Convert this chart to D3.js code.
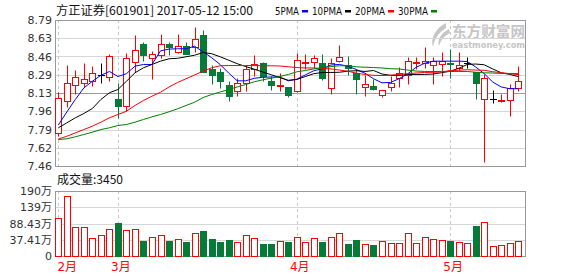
<!DOCTYPE html>
<html>
<head>
<meta charset="utf-8">
<script src="https://cdn.jsdelivr.net/npm/d3@7"></script>
<style>
  body { margin: 0; background: #fff; }
  svg { display: block; }
</style>
</head>
<body>
<svg id="chart" width="578" height="276"></svg>
<script>
// daily candles, 2017-02 .. 2017-05-12
let opens  = [7.76,8.05,8.20,8.22,8.23,8.29,8.27,8.07,8.01,8.41,8.57,8.44,8.47,8.57,8.50,8.55,8.54,8.65,8.34,8.32,
              8.20,8.14,8.22,8.34,8.40,8.23,8.19,8.18,8.14,8.40,8.41,8.40,8.17,8.42,8.38,8.31,8.18,8.19,8.11,8.18,
              8.26,8.29,8.40,8.40,8.38,8.39,8.40,8.35,8.40,8.32,8.07,8.07,8.05,8.06,8.17];
let highs  = [8.13,8.38,8.33,8.40,8.37,8.40,8.48,8.22,8.49,8.65,8.59,8.51,8.66,8.59,8.66,8.59,8.73,8.70,8.38,8.35,
              8.23,8.26,8.38,8.47,8.41,8.28,8.31,8.18,8.49,8.48,8.47,8.48,8.44,8.56,8.46,8.34,8.29,8.25,8.15,8.28,
              8.36,8.45,8.45,8.54,8.45,8.50,8.53,8.50,8.45,8.32,8.30,8.15,8.12,8.21,8.37];
let lows   = [7.73,8.00,8.12,8.18,8.19,8.22,8.23,7.90,7.96,8.32,8.42,8.25,8.44,8.47,8.49,8.48,8.50,8.32,8.21,8.17,
              8.05,8.10,8.14,8.28,8.23,8.15,8.14,8.09,8.13,8.34,8.35,8.24,8.12,8.41,8.29,8.12,8.10,8.15,8.09,8.14,
              8.18,8.21,8.34,8.35,8.21,8.28,8.26,8.33,8.35,8.07,7.50,8.03,8.04,7.92,8.14];
let closes = [8.08,8.22,8.27,8.25,8.31,8.29,8.46,8.01,8.44,8.52,8.47,8.48,8.57,8.54,8.55,8.48,8.62,8.32,8.29,8.23,
              8.10,8.22,8.34,8.39,8.28,8.20,8.20,8.11,8.43,8.41,8.44,8.26,8.40,8.45,8.35,8.25,8.21,8.16,8.15,8.22,
              8.31,8.42,8.41,8.42,8.42,8.42,8.39,8.38,8.40,8.22,8.26,8.07,8.06,8.17,8.23];
// volume in 万
let volumes = [110,175,84,84,52,60.5,79,96.5,76,79,44,54.6,60.5,44,49.7,41,66.3,73,49.7,41,
               46.8,41,60.5,52,35,35,44,41,54.6,40,52,40,54.6,66.3,35,46.8,35,32,44,37,
               37,66.3,37,54.6,48.8,45.9,44,40,37,87.7,98.5,28.4,31.3,37,43];

let ma5  = [7.833,7.952,8.066,8.171,8.232,8.286,8.321,8.275,8.301,8.369,8.385,8.385,8.509,8.525,8.528,8.528,8.551,8.501,8.446,8.385,
            8.307,8.236,8.236,8.259,8.268,8.271,8.271,8.236,8.251,8.290,8.328,8.346,8.380,8.385,8.369,8.339,8.305,8.255,8.218,8.221,
            8.255,8.298,8.359,8.396,8.415,8.415,8.415,8.415,8.412,8.362,8.301,8.225,8.180,8.164,8.164];
let ma10 = [7.808,7.853,7.899,7.938,7.984,8.066,8.127,8.157,8.232,8.309,8.355,8.385,8.415,8.437,8.441,8.455,8.469,8.494,8.483,8.455,
            8.424,8.392,8.366,8.342,8.316,8.291,8.266,8.241,8.248,8.275,8.301,8.312,8.312,8.314,8.324,8.328,8.321,8.330,8.298,8.286,
            8.284,8.294,8.294,8.294,8.298,8.310,8.323,8.350,8.385,8.389,8.382,8.344,8.309,8.294,8.275];
let ma20 = [7.706,7.731,7.762,7.792,7.823,7.859,7.899,7.929,7.959,8.011,8.057,8.096,8.132,8.180,8.221,8.255,8.289,8.324,8.355,8.373,
            8.375,8.375,8.375,8.375,8.373,8.373,8.371,8.364,8.357,8.353,8.353,8.348,8.345,8.334,8.323,8.306,8.294,8.286,8.284,8.287,
            8.294,8.301,8.307,8.312,8.314,8.316,8.330,8.332,8.337,8.334,8.332,8.319,8.310,8.301,8.292];
let ma30 = [7.701,7.708,7.726,7.747,7.768,7.792,7.808,7.829,7.838,7.859,7.884,7.908,7.929,7.954,7.981,8.011,8.041,8.084,8.111,8.134,
            8.157,8.180,8.202,8.227,8.245,8.260,8.275,8.294,8.318,8.330,8.345,8.355,8.366,8.373,8.373,8.363,8.360,8.357,8.353,8.346,
            8.344,8.334,8.325,8.321,8.321,8.321,8.321,8.321,8.321,8.314,8.309,8.307,8.303,8.303,8.303];

let monthIdx = [0, 7, 28, 46];
let monthLabels = ["2月", "3月", "4月", "5月"];
let priceTickLabels = ["7.46","7.62","7.79","7.96","8.13","8.29","8.46","8.63","8.79"];
let volTickLabels = ["0","37.41万","88.43万","139万","190万"];
let maNames = ["5PMA","10PMA","20PMA","30PMA"];
let maColors = ["#0000ff","#000000","#ff0000","#008000"];

let upColor = "#ff0000", downColor = "#067a38", gridColor = "#d6d6d6", frameColor = "#999";
let FONT = '"DejaVu Sans","Noto Sans CJK SC",sans-serif';
let CJK = '"Noto Sans CJK SC",sans-serif';

let svg = d3.select("#chart");
let L = 55, R = 525, T = 20, B = 166, VT = 191, VB = 256;
let n = closes.length;

let x = d3.scalePoint().domain(d3.range(n)).range([58.3, 518.3]);
let y = d3.scaleLinear().domain([7.46, 8.79]).range([B, T]);
let yv = d3.scaleLinear().domain([0, 190]).range([VB, VT]);
let px = i => Math.round(x(i)) + 0.5;
let py = v => Math.round(y(v)) + 0.5;

svg.append("rect").attr("width", 578).attr("height", 276).attr("fill", "#fff");

// watermark
let wm = svg.append("g").attr("fill", "#c6c6c6");
wm.append("path").attr("d", "M446,23 C436,28 430,38 433,47 C434,40 438,33 446,28 Z M449,29 C441,33 437,40 439,46 C441,40 444,36 450,33 Z");
wm.append("text").attr("x", 452).attr("y", 36.5).attr("font-family", CJK).attr("font-weight", "bold")
  .attr("font-size", 15).attr("textLength", 73).attr("lengthAdjust", "spacingAndGlyphs").text("东方财富网");
wm.append("text").attr("x", 452).attr("y", 47.5).attr("font-family", FONT).attr("font-weight", "bold")
  .attr("font-size", 8.5).attr("textLength", 73).attr("lengthAdjust", "spacingAndGlyphs").text("eastmoney.com");

// price grid + labels
let pStep = (8.79 - 7.46) / (priceTickLabels.length - 1);
let pTicks = priceTickLabels.map((d, i) => 7.46 + i * pStep);
svg.append("g").selectAll("line").data(pTicks).join("line")
  .attr("x1", L).attr("x2", R).attr("y1", d => py(d)).attr("y2", d => py(d))
  .attr("stroke", (d, i) => i === 4 ? "#9a9a9a" : gridColor);
svg.append("g").attr("transform", `translate(${L - 3},0)`)
  .call(d3.axisLeft(y).tickValues(pTicks).tickSize(0).tickPadding(0).tickFormat((d, i) => priceTickLabels[i]))
  .call(g => g.select(".domain").remove())
  .attr("font-family", FONT).attr("font-size", 11)
  .call(g => g.selectAll("text").attr("fill", "#333"));

// volume grid + labels
let vStep = 190 / (volTickLabels.length - 1);
let vTicks = volTickLabels.map((d, i) => i * vStep);
svg.append("g").selectAll("line").data(vTicks).join("line")
  .attr("x1", L).attr("x2", R).attr("y1", d => Math.round(yv(d)) + 0.5).attr("y2", d => Math.round(yv(d)) + 0.5)
  .attr("stroke", gridColor);
svg.append("g").attr("transform", `translate(${L - 3},0)`)
  .call(d3.axisLeft(yv).tickValues(vTicks).tickSize(0).tickPadding(0).tickFormat((d, i) => volTickLabels[i]))
  .call(g => g.select(".domain").remove())
  .attr("font-family", FONT).attr("font-size", 11)
  .call(g => g.selectAll("text").attr("fill", "#333"));

// month separators
[[T, B], [VT, VB]].forEach(([a, b]) => {
  svg.append("g").selectAll("line").data(monthIdx).join("line")
    .attr("x1", d => px(d)).attr("x2", d => px(d)).attr("y1", a).attr("y2", b)
    .attr("stroke", "#c8c8c8").attr("stroke-dasharray", "3,3");
});
svg.append("g").selectAll("text").data(monthIdx).join("text")
  .attr("x", (d, i) => i === 0 ? Math.max(x(d) + 9, L + 12) : x(d) + 3)
  .attr("y", 271).attr("text-anchor", "middle")
  .attr("font-family", FONT).attr("font-size", 12).attr("fill", "#ff0000")
  .text((d, i) => monthLabels[i]);

// frames
svg.append("rect").attr("x", L + 0.5).attr("y", T + 0.5).attr("width", R - L).attr("height", B - T)
  .attr("fill", "none").attr("stroke", frameColor);
svg.append("rect").attr("x", L + 0.5).attr("y", VT + 0.5).attr("width", R - L).attr("height", VB - VT)
  .attr("fill", "none").attr("stroke", frameColor);

// candles
let cg = svg.append("g");
d3.range(n).forEach(i => {
  let o = opens[i], c = closes[i], h = highs[i], l = lows[i];
  let xc = px(i);
  if (o === c) {
    cg.append("line").attr("x1", xc).attr("x2", xc).attr("y1", py(h)).attr("y2", py(l)).attr("stroke", "#000");
    cg.append("line").attr("x1", xc - 3.5).attr("x2", xc + 3.5).attr("y1", py(o)).attr("y2", py(o)).attr("stroke", "#000");
    return;
  }
  let up = c > o;
  let col = up ? upColor : downColor;
  cg.append("line").attr("x1", xc).attr("x2", xc).attr("y1", py(h)).attr("y2", py(l)).attr("stroke", col);
  let top = py(Math.max(o, c)), bot = py(Math.min(o, c));
  cg.append("rect").attr("x", xc - 3).attr("y", top).attr("width", 6).attr("height", Math.max(bot - top, 0.01))
    .attr("fill", up ? "#fff" : col).attr("stroke", col);
});

// moving averages
[ma5, ma10, ma20, ma30].forEach((arr, k) => {
  svg.append("path").datum(arr)
    .attr("d", d3.line().x((d, i) => x(i)).y(d => y(d)))
    .attr("fill", "none").attr("stroke", maColors[k]).attr("stroke-width", 1);
});

// volume bars
svg.append("g").selectAll("rect").data(volumes).join("rect")
  .attr("x", (d, i) => px(i) - 3)
  .attr("y", d => Math.round(yv(d)) + 0.5)
  .attr("width", 6)
  .attr("height", d => VB - Math.round(yv(d)))
  .attr("fill", (d, i) => closes[i] >= opens[i] ? "#fff" : downColor)
  .attr("stroke", (d, i) => closes[i] >= opens[i] ? upColor : downColor);

// title + legend
svg.append("text").attr("x", 56).attr("y", 15).attr("font-family", CJK).attr("font-size", 12)
  .attr("fill", "#111").attr("textLength", 197).attr("lengthAdjust", "spacingAndGlyphs")
  .text("方正证券[601901] 2017-05-12 15:00");

let lx = 275;
maNames.forEach((name, k) => {
  let w = name.length * 6;
  svg.append("text").attr("x", lx).attr("y", 15).attr("font-family", FONT).attr("font-size", 11)
    .attr("fill", "#111").attr("textLength", w).attr("lengthAdjust", "spacingAndGlyphs").text(name);
  svg.append("rect").attr("x", lx + w + 3).attr("y", 10).attr("width", 6).attr("height", 2.5)
    .attr("fill", maColors[k]);
  lx += w + 13;
});

svg.append("text").attr("x", 57).attr("y", 184).attr("font-family", CJK).attr("font-size", 12)
  .attr("fill", "#111").attr("textLength", 66).attr("lengthAdjust", "spacingAndGlyphs")
  .text("成交量:3450");
</script>
</body>
</html>
